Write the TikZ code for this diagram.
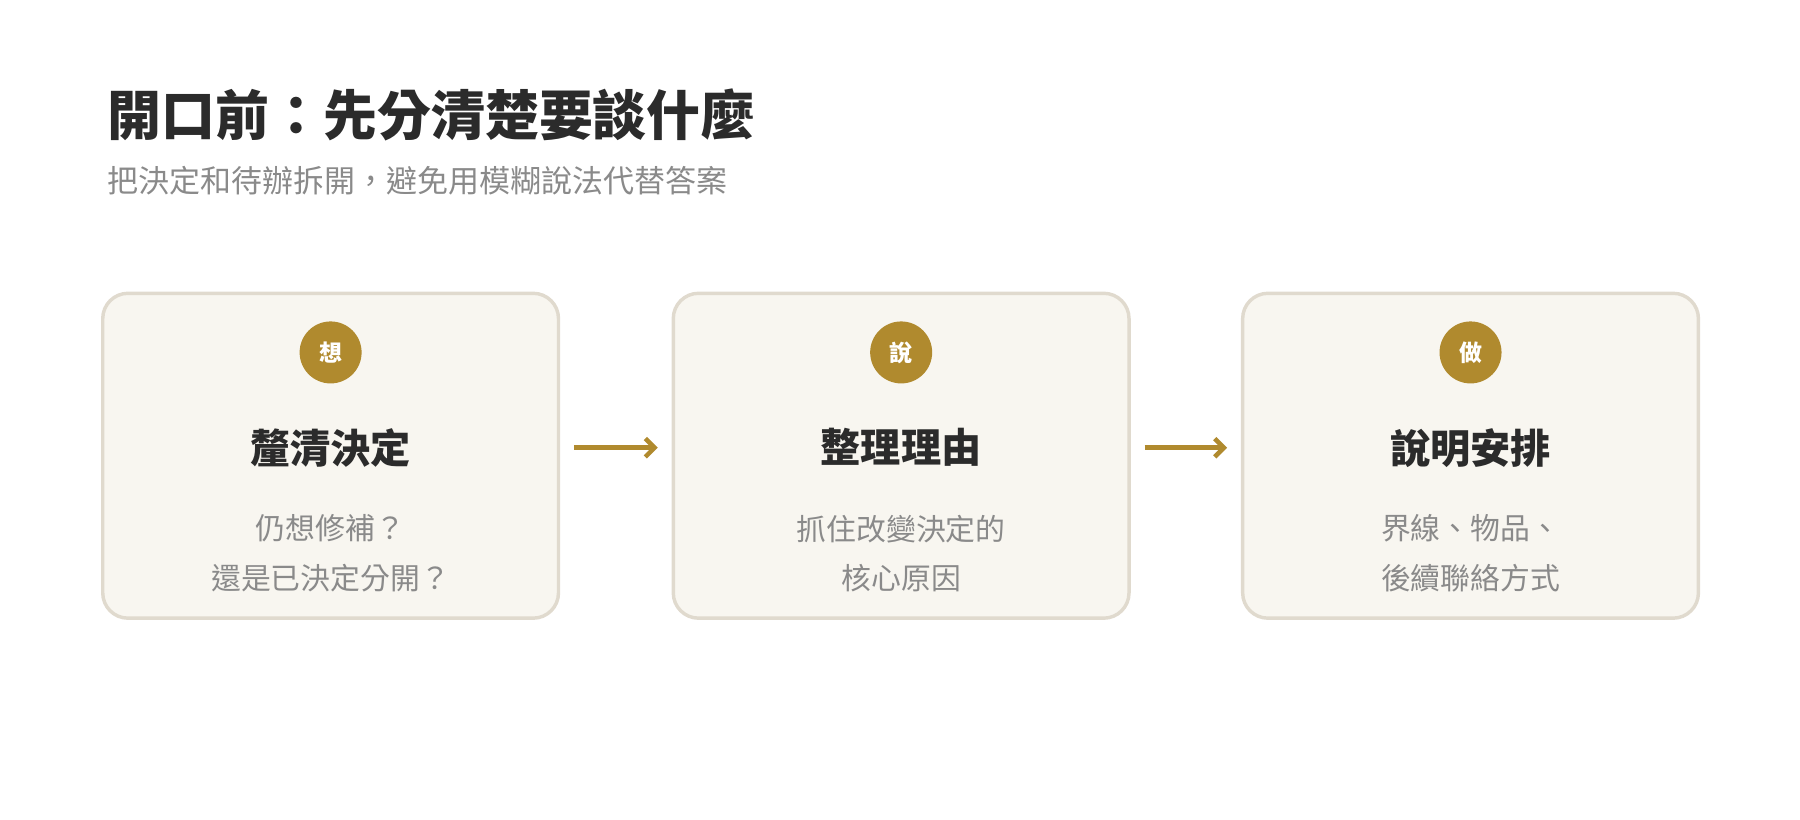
\documentclass[tikz,border=0pt]{standalone}
\usepackage{fontspec}
\setmainfont{Noto Sans CJK TC}
\usetikzlibrary{positioning,arrows.meta}
\definecolor{ink}{HTML}{2B2B2B}
\definecolor{muted}{HTML}{8A8A8A}
\definecolor{card}{HTML}{F8F6F0}
\definecolor{rim}{HTML}{E0DACE}
\definecolor{gold}{HTML}{B08A2E}

\begin{document}
\begin{tikzpicture}[x=1pt,y=-1pt]
    \tikzstyle{stepbox} = [draw=rim,fill=card,line width=3pt,rounded corners=22pt,
                           minimum width=397pt,minimum height=283pt,inner sep=0pt]
    \tikzstyle{badge} = [circle,fill=gold,text=white,minimum size=54pt,inner sep=0pt,
                         font=\fontsize{20}{20}\selectfont\bfseries]
    \tikzstyle{head} = [text=ink,font=\fontsize{35}{35}\selectfont\bfseries]
    \tikzstyle{body} = [text=muted,align=center,font=\fontsize{26}{43}\selectfont]
    \tikzstyle{flow} = [draw=gold,line width=4pt,-{Straight Barb[length=8pt,width=16pt]}]

    \useasboundingbox (0,0) rectangle (1568,714);
    \node[anchor=base west,text=ink,font=\fontsize{47}{47}\selectfont\bfseries]
        (title) at (90,118) {開口前：先分清楚要談什麼};
    \node[anchor=base west,text=muted,font=\fontsize{27}{27}\selectfont]
        (subtitle) at (90,168) {把決定和待辦拆開，避免用模糊說法代替答案};

    % three steps
    \node[stepbox] (think) at (288,397) {};
    \node[stepbox] (say) at (785,397) {};
    \node[stepbox] (act) at (1281,397) {};

    \node[badge] (thinkb) at (288,307) {想};
    \node[badge] (sayb) at (785,307) {說};
    \node[badge] (actb) at (1281,307) {做};

    \node[head] (thinkh) at (288,390) {釐清決定};
    \node[head] (sayh) at (785,390) {整理理由};
    \node[head] (acth) at (1281,390) {說明安排};

    \node[body] (thinkt) at (288,482) {仍想修補？\\還是已決定分開？};
    \node[body] (sayt) at (785,482) {抓住改變決定的\\核心原因};
    \node[body] (actt) at (1281,482) {界線、物品、\\後續聯絡方式};

    \draw[flow] ([xshift=12pt]think.east |- thinkh) -- ([xshift=-12pt]say.west |- sayh);
    \draw[flow] ([xshift=12pt]say.east |- sayh) -- ([xshift=-12pt]act.west |- acth);
\end{tikzpicture}
\end{document}
